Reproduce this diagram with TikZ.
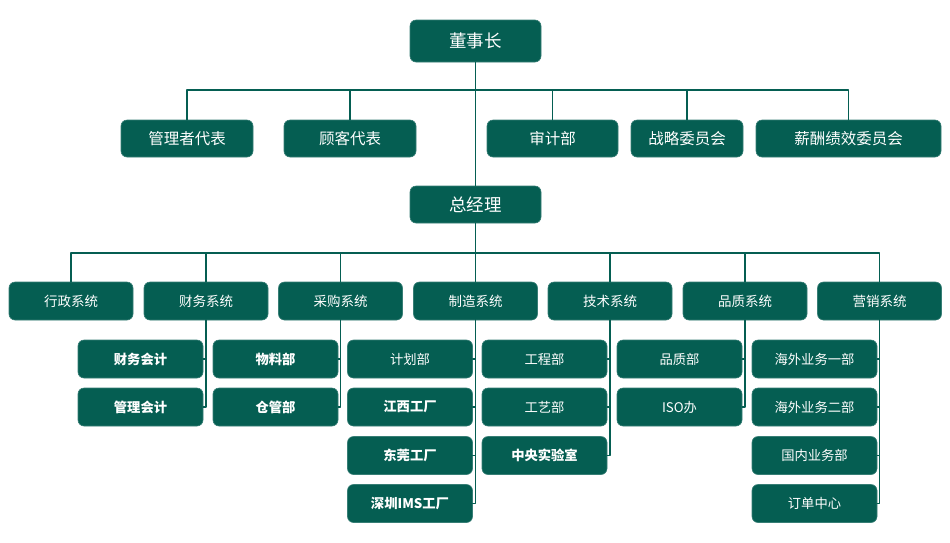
\documentclass[tikz,border=0pt]{standalone}
\usepackage{fontspec}
\setmainfont{Noto Sans CJK SC}
\usepackage{tikz}

\definecolor{teal}{HTML}{055E52}

\begin{document}
\begin{tikzpicture}[x=1pt, y=-1pt, line cap=round, line join=round,
  box/.style={rounded corners=6pt, fill=teal, draw=teal!80, line width=0.6pt,
    text=white, inner sep=0pt, anchor=center},
  top/.style={box, minimum width=131pt, font=\fontsize{17.5}{20}\selectfont},
  lvone/.style={box, minimum height=37pt, font=\fontsize{15.5}{18}\selectfont},
  lvtwo/.style={box, minimum width=124pt, minimum height=38pt, font=\fontsize{13.5}{16}\selectfont},
  sub/.style={box, minimum width=125pt, minimum height=38pt, font=\fontsize{13.3}{16}\selectfont},
  subb/.style={sub, font=\fontsize{13.3}{16}\selectfont\bfseries},
  link/.style={draw=teal, line width=1.9pt}]

  %% ════ 董事长 / 总经理 ════
  \node[top, minimum height=42pt] (dsz) at (475.5,41) {董事长};
  \node[top, minimum height=37pt] (zjl) at (475.5,204.5) {总经理};

  %% ════ 董事长下属 ════
  \node[lvone, minimum width=132pt] (gldb) at (187,138.5) {管理者代表};
  \node[lvone, minimum width=132pt] (gkdb) at (350,138.5) {顾客代表};
  \node[lvone, minimum width=131pt] (sjb)  at (552.5,138.5) {审计部};
  \node[lvone, minimum width=112pt] (zlwy) at (687,138.5) {战略委员会};
  \node[lvone, minimum width=185pt] (xcwy) at (848.5,138.5) {薪酬绩效委员会};

  %% ════ 七大系统 ════
  \node[lvtwo] (xz) at (71,301)    {行政系统};
  \node[lvtwo] (cw) at (206,301)   {财务系统};
  \node[lvtwo] (cg) at (340.5,301) {采购系统};
  \node[lvtwo] (zz) at (475.5,301) {制造系统};
  \node[lvtwo] (js) at (610,301)   {技术系统};
  \node[lvtwo] (pz) at (745,301)   {品质系统};
  \node[lvtwo] (yx) at (879.5,301) {营销系统};

  %% ════ 各系统下属部门 ════
  \node[subb] (cwkj) at (140.5,359)   {财务会计};
  \node[subb] (gljk) at (140.5,407)   {管理会计};
  \node[subb] (wlb)  at (275.5,359)   {物料部};
  \node[subb] (cgb)  at (275.5,407)   {仓管部};
  \node[sub]  (jhb)  at (410,359)     {计划部};
  \node[subb] (jxgc) at (410,407)     {江西工厂};
  \node[subb] (dggc) at (410,455.5)   {东莞工厂};
  \node[subb] (szgc) at (410,503.5)   {深圳IMS工厂};
  \node[sub]  (gcb)  at (544.5,359)   {工程部};
  \node[sub]  (gyb)  at (544.5,407)   {工艺部};
  \node[subb] (zysy) at (544.5,455.5) {中央实验室};
  \node[sub]  (pzb)  at (679.5,359)   {品质部};
  \node[sub]  (isob) at (679.5,407)   {ISO办};
  \node[sub]  (hwyb) at (814.5,359)   {海外业务一部};
  \node[sub]  (hweb) at (814.5,407)   {海外业务二部};
  \node[sub]  (gnyw) at (814.5,455.5) {国内业务部};
  \node[sub]  (ddzx) at (814.5,503.5) {订单中心};

  %% ════ 连线 ════
  \coordinate (busa) at (475.5,90);
  \coordinate (busb) at (475.5,253);
  \draw[link] (dsz.south) -- (zjl.north);
  \draw[link] (zjl.south) -- (zz.north);
  \draw[link] (gldb.north) |- (busa) -| (xcwy.north);
  \draw[link] (gkdb.north) -- (gkdb.north |- busa);
  \draw[link] (sjb.north)  -- (sjb.north |- busa);
  \draw[link] (zlwy.north) -- (zlwy.north |- busa);
  \draw[link] (xz.north) |- (busb) -| (yx.north);
  \foreach \s in {cw,cg,js,pz}
    \draw[link] (\s.north) -- (\s.north |- busb);

  \foreach \s/\t in {cw/cwkj, cw/gljk, cg/wlb, cg/cgb,
                     zz/jhb, zz/jxgc, zz/dggc, zz/szgc,
                     js/gcb, js/gyb, js/zysy, pz/pzb, pz/isob,
                     yx/hwyb, yx/hweb, yx/gnyw, yx/ddzx}
    \draw[link] (\s.south) |- (\t.east);

  % 钉死画布
  \pgfresetboundingbox
  \path[use as bounding box] (0,0) rectangle (950,542);
\end{tikzpicture}
\end{document}
